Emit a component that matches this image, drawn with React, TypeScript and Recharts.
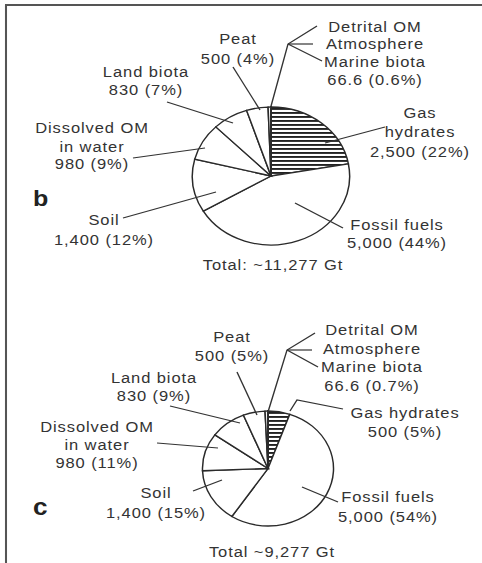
import React from "react";
import { PieChart, Pie, Cell } from "recharts";

// ---- data ----
const categories = [
  "Gas hydrates",
  "Fossil fuels",
  "Soil",
  "Dissolved OM in water",
  "Land biota",
  "Peat",
  "Detrital OM",
  "Atmosphere",
  "Marine biota",
];
const valuesB = [2500, 5000, 1400, 980, 830, 500, 60, 3.6, 3];
const valuesC = [500, 5000, 1400, 980, 830, 500, 60, 3.6, 3];

const textsB: string[][] = [
  ["Gas", "hydrates", "2,500 (22%)"],
  ["Fossil fuels", "5,000 (44%)"],
  ["Soil", "1,400 (12%)"],
  ["Dissolved OM", "in water", "980 (9%)"],
  ["Land biota", "830 (7%)"],
  ["Peat", "500 (4%)"],
  ["Detrital OM", "Atmosphere", "Marine biota", "66.6 (0.6%)"],
  [],
  [],
];
const textsC: string[][] = [
  ["Gas hydrates", "500 (5%)"],
  ["Fossil fuels", "5,000 (54%)"],
  ["Soil", "1,400 (15%)"],
  ["Dissolved OM", "in water", "980 (11%)"],
  ["Land biota", "830 (9%)"],
  ["Peat", "500 (5%)"],
  ["Detrital OM", "Atmosphere", "Marine biota", "66.6 (0.7%)"],
  [],
  [],
];
const totalB = "Total: ~11,277 Gt";
const totalC = "Total ~9,277 Gt";

const dataB = categories.map((name, i) => ({ name, value: valuesB[i] }));
const dataC = categories.map((name, i) => ({ name, value: valuesC[i] }));

// ---- layout (annotation positions, page pixels) ----
type Pt = [number, number];
type LabelLayout = { x: number; ys: number[]; leaders: Pt[][] } | null;

const layoutB: LabelLayout[] = [
  { x: 420, ys: [113, 132, 152], leaders: [[[385, 127], [325, 143]]] },
  { x: 397, ys: [225, 243], leaders: [[[343, 228], [295, 203]]] },
  { x: 104, ys: [220, 240], leaders: [[[123, 218], [216, 192]]] },
  { x: 92, ys: [128, 147, 164], leaders: [[[133, 158], [205, 148]]] },
  { x: 146, ys: [72, 90], leaders: [[[167, 102], [233, 123]]] },
  { x: 238, ys: [39, 59], leaders: [[[233, 67], [260, 110]]] },
  {
    x: 375,
    ys: [27, 44.5, 62, 80],
    leaders: [
      [[317, 26], [288, 44], [270.5, 108]],
      [[313, 44], [288, 44]],
      [[322, 61], [288, 44]],
    ],
  },
  null,
  null,
];
const layoutC: LabelLayout[] = [
  { x: 405, ys: [413, 432], leaders: [[[343, 409], [297, 400], [290, 411]]] },
  { x: 388, ys: [497, 517], leaders: [[[338, 502], [302, 487]]] },
  { x: 156, ys: [493, 513], leaders: [[[193, 491], [222, 480]]] },
  { x: 97, ys: [427, 445, 463], leaders: [[[157, 443], [218, 448]]] },
  { x: 154, ys: [378, 396], leaders: [[[170, 406], [240, 423]]] },
  { x: 232, ys: [337, 356], leaders: [[[237, 372], [257, 415]]] },
  {
    x: 372,
    ys: [330, 349, 367, 386],
    leaders: [
      [[315, 333], [287, 350], [268, 412]],
      [[312, 350], [287, 350]],
      [[318, 367], [287, 350]],
    ],
  },
  null,
  null,
];

const W = 423;
const H = 563;
const S = 482 / W;
const X = (x: number) => x / S;

const FONT = "'Liberation Sans', Arial, Helvetica, sans-serif";
const TXT = "#333";

const renderLabels = (texts: string[][], layout: LabelLayout[]) => (props: any) => {
  const i = props.index;
  const lay = layout[i];
  const lines = texts[i];
  if (!lay || !lines || lines.length === 0) return <g />;
  return (
    <g>
      {lay.leaders.map((pts, k) => (
        <polyline
          key={k}
          points={pts.map(([x, y]) => `${X(x)},${y}`).join(" ")}
          fill="none"
          stroke="#333"
          strokeWidth={1.2}
        />
      ))}
      <text
        textAnchor="middle"
        fontFamily={FONT}
        fontSize={14.5}
        letterSpacing={0.8}
        fill={TXT}
      >
        {lines.map((t, k) => (
          <tspan key={k} x={X(lay.x)} y={lay.ys[k] + 5}>
            {t}
          </tspan>
        ))}
      </text>
    </g>
  );
};

export default function App() {
  return (
    <div
      style={{
        position: "absolute",
        left: 0,
        top: 0,
        width: 482,
        height: 563,
        overflow: "hidden",
        background: "#fff",
      }}
    >
      <svg width={0} height={0} style={{ position: "absolute" }}>
        <defs>
          <pattern id="hatch" patternUnits="userSpaceOnUse" width={6} height={4}>
            <rect width={6} height={4} fill="#fff" />
            <rect width={6} height={1.9} fill="#222" />
          </pattern>
        </defs>
      </svg>
      <div
        style={{
          position: "absolute",
          left: 0,
          top: 0,
          width: W,
          height: H,
          transform: `scaleX(${S})`,
          transformOrigin: "0 0",
        }}
      >
        <PieChart width={W} height={H} margin={{ top: 0, right: 0, bottom: 0, left: 0 }}>
          <Pie
            data={dataB}
            dataKey="value"
            nameKey="name"
            cx={X(271)}
            cy={176}
            innerRadius={0}
            outerRadius={69}
            startAngle={90}
            endAngle={-270}
            stroke="#2a2a2a"
            strokeWidth={1.3}
            isAnimationActive={false}
            label={renderLabels(textsB, layoutB)}
            labelLine={false}
          >
            {dataB.map((d, i) => (
              <Cell key={d.name} fill={i === 0 ? "url(#hatch)" : "#fff"} />
            ))}
          </Pie>
          <Pie
            data={dataC}
            dataKey="value"
            nameKey="name"
            cx={X(268)}
            cy={468.5}
            innerRadius={0}
            outerRadius={57.5}
            startAngle={90}
            endAngle={-270}
            stroke="#2a2a2a"
            strokeWidth={1.3}
            isAnimationActive={false}
            label={renderLabels(textsC, layoutC)}
            labelLine={false}
          >
            {dataC.map((d, i) => (
              <Cell key={d.name} fill={i === 0 ? "url(#hatch)" : "#fff"} />
            ))}
          </Pie>
        </PieChart>
        <svg
          width={W}
          height={H}
          style={{ position: "absolute", left: 0, top: 0, pointerEvents: "none" }}
        >
          <line x1={X(5)} y1={5} x2={W} y2={5} stroke="#555" strokeWidth={2} />
          <line x1={X(6)} y1={5} x2={X(6)} y2={H} stroke="#555" strokeWidth={1.8} />
          <text x={X(33)} y={206} fontFamily={FONT} fontSize={22} fontWeight="bold" fill="#222">
            b
          </text>
          <text x={X(33)} y={515} fontFamily={FONT} fontSize={23} fontWeight="bold" fill="#222">
            c
          </text>
          <text
            x={X(273)}
            y={270}
            textAnchor="middle"
            fontFamily={FONT}
            fontSize={14.5}
            letterSpacing={0.8}
            fill={TXT}
          >
            {totalB}
          </text>
          <text
            x={X(272)}
            y={557}
            textAnchor="middle"
            fontFamily={FONT}
            fontSize={14.5}
            letterSpacing={0.8}
            fill={TXT}
          >
            {totalC}
          </text>
        </svg>
      </div>
    </div>
  );
}
